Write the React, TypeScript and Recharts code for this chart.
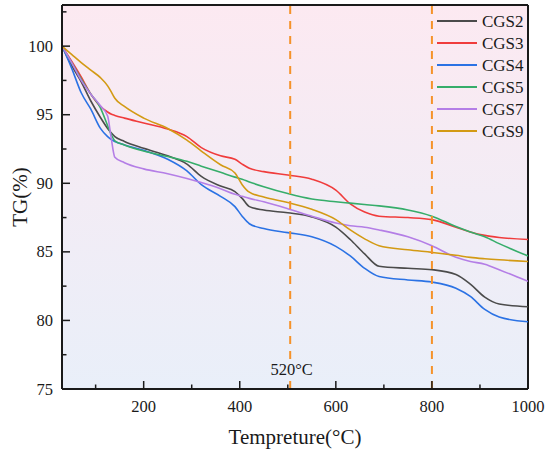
import React from 'react';
import { LineChart, Line, XAxis, YAxis, ReferenceLine, Legend, CartesianGrid, Label } from 'recharts';

const temps = [30, 50, 70, 90, 110, 125, 132, 140, 160, 200, 250, 290, 320, 360, 390, 405, 420, 450, 500, 550, 600, 630, 660, 690, 750, 800, 850, 880, 910, 940, 1000];

const cgs2 = [100, 98.6, 97.4, 96.0, 94.8, 94.0, 93.7, 93.4, 93.05, 92.55, 92.0, 91.4, 90.5, 89.8, 89.4, 88.9, 88.3, 88.05, 87.85, 87.55, 86.8, 85.9, 84.85, 83.95, 83.8, 83.7, 83.35, 82.65, 81.7, 81.2, 81.0];
const cgs3 = [100, 98.9, 97.75, 96.5, 95.6, 95.2, 95.05, 94.95, 94.75, 94.4, 93.95, 93.4, 92.6, 92.0, 91.75, 91.4, 91.1, 90.85, 90.6, 90.3, 89.5, 88.5, 87.9, 87.6, 87.5, 87.35, 86.8, 86.45, 86.2, 86.05, 85.9];
const cgs4 = [100, 98.4, 96.6, 95.4, 94.0, 93.4, 93.2, 93.05, 92.8, 92.4, 91.75, 90.9, 89.9, 89.05, 88.3, 87.6, 87.05, 86.7, 86.4, 86.1, 85.4, 84.7, 83.8, 83.2, 82.95, 82.8, 82.35, 81.75, 80.8, 80.25, 79.9];
const cgs5 = [100, 98.8, 97.6, 96.5, 95.5, 94.2, 93.6, 93.1, 92.8, 92.35, 91.95, 91.6, 91.25, 90.8, 90.45, 90.3, 90.1, 89.75, 89.25, 88.85, 88.65, 88.55, 88.45, 88.35, 88.05, 87.6, 86.85, 86.45, 86.1, 85.6, 84.7];
const cgs7 = [100, 98.8, 97.5, 96.5, 95.65, 94.9, 93.4, 91.9, 91.5, 91.05, 90.7, 90.35, 90.05, 89.6, 89.2, 89.05, 88.9, 88.65, 88.15, 87.6, 87.1, 86.9, 86.8, 86.6, 86.1, 85.45, 84.6, 84.3, 84.1, 83.7, 82.85];
const cgs9 = [100, 99.4, 98.8, 98.25, 97.7, 97.1, 96.7, 96.2, 95.6, 94.75, 94.0, 93.15, 92.35, 91.35, 90.75, 89.9, 89.35, 89.0, 88.6, 88.1, 87.35, 86.6, 85.95, 85.45, 85.15, 84.96, 84.75, 84.6, 84.5, 84.42, 84.3];

const xTicks = [100, 200, 300, 400, 500, 600, 700, 800, 900, 1000];
const yTicks = [75, 77.5, 80, 82.5, 85, 87.5, 90, 92.5, 95, 97.5, 100, 102.5];
const markers = [505, 800];
const markerLabel = '520°C';

const series = [
  { key: 'CGS2', color: '#4b4b4b', values: cgs2 },
  { key: 'CGS3', color: '#f03c3c', values: cgs3 },
  { key: 'CGS4', color: '#2b72e4', values: cgs4 },
  { key: 'CGS5', color: '#36ad6a', values: cgs5 },
  { key: 'CGS7', color: '#b47ee6', values: cgs7 },
  { key: 'CGS9', color: '#d39a14', values: cgs9 },
];

const data = temps.map((t, i) => {
  const row: Record<string, number> = { t };
  series.forEach((s) => {
    row[s.key] = s.values[i];
  });
  return row;
});

const FONT = '"Liberation Serif", "Times New Roman", serif';
const INK = '#1a1a1a';

const XTick = (props: any) => {
  const { x, y, payload } = props;
  const v = payload.value;
  const major = v % 200 === 0;
  return (
    <g>
      <line x1={x} x2={x} y1={y} y2={y - (major ? 8 : 4.5)} stroke={INK} strokeWidth={1.5} />
      {major && (
        <text x={x} y={y + 17} textAnchor="middle" dominantBaseline="central" fontFamily={FONT} fontSize={16.5} fill={INK}>
          {v}
        </text>
      )}
    </g>
  );
};

const YTick = (props: any) => {
  const { x, y, payload } = props;
  const v = payload.value;
  const major = v % 5 === 0;
  return (
    <g>
      <line x1={x} x2={x + (major ? 8 : 4.5)} y1={y} y2={y} stroke={INK} strokeWidth={1.5} />
      {major && (
        <text x={x - 9} y={y} textAnchor="end" dominantBaseline="central" fontFamily={FONT} fontSize={16.5} fill={INK}>
          {v}
        </text>
      )}
    </g>
  );
};

const renderLegend = () => (
  <svg width={110} height={140}>
    {series.map((s, i) => (
      <g key={s.key}>
        <line x1={0} x2={40} y1={10 + i * 22} y2={10 + i * 22} stroke={s.color} strokeWidth={1.8} />
        <text x={45} y={10 + i * 22} dominantBaseline="central" fontFamily={FONT} fontSize={17} fill={INK}>
          {s.key}
        </text>
      </g>
    ))}
  </svg>
);

export default function App() {
  return (
    <div style={{ position: 'fixed', left: 0, top: 0, width: 550, height: 454, background: '#fff' }}>
      <LineChart width={550} height={454} data={data} margin={{ top: 5, right: 22, bottom: 0, left: 0 }}>
        <defs>
          <linearGradient id="bgGrad" x1="0" y1="0" x2="0" y2="1">
            <stop offset="0%" stopColor="#fce9f1" />
            <stop offset="100%" stopColor="#e9eff9" />
          </linearGradient>
        </defs>
        <CartesianGrid horizontal={false} vertical={false} fill="url(#bgGrad)" fillOpacity={1} />
        <XAxis
          dataKey="t"
          type="number"
          domain={[30, 1000]}
          ticks={xTicks}
          interval={0}
          height={65}
          tickSize={0}
          tickMargin={0}
          tickLine={false}
          tick={<XTick />}
          axisLine={{ stroke: INK, strokeWidth: 2 }}
          allowDataOverflow
        >
          <Label
            content={(p: any) => {
              const vb = p.viewBox;
              return (
                <text x={vb.x + vb.width / 2} y={437} textAnchor="middle" dominantBaseline="central" fontFamily={FONT} fontSize={21} fill={INK}>
                  Tempreture(°C)
                </text>
              );
            }}
          />
        </XAxis>
        <YAxis
          type="number"
          domain={[75, 103]}
          ticks={yTicks}
          interval={0}
          width={62}
          tickSize={0}
          tickMargin={0}
          tickLine={false}
          tick={<YTick />}
          axisLine={{ stroke: INK, strokeWidth: 2 }}
          allowDataOverflow
        >
          <Label
            content={(p: any) => {
              const vb = p.viewBox;
              const cx = 20;
              const cy = vb.y + vb.height / 2;
              return (
                <text x={cx} y={cy} transform={`rotate(-90 ${cx} ${cy})`} textAnchor="middle" dominantBaseline="central" fontFamily={FONT} fontSize={21} fill={INK}>
                  TG(%)
                </text>
              );
            }}
          />
        </YAxis>
        <ReferenceLine y={103} stroke={INK} strokeWidth={2} />
        <ReferenceLine x={1000} stroke={INK} strokeWidth={2} />
        {series.map((s) => (
          <Line
            key={s.key}
            dataKey={s.key}
            type="monotone"
            stroke={s.color}
            strokeWidth={1.6}
            dot={false}
            activeDot={false}
            isAnimationActive={false}
          />
        ))}
        {markers.map((m, i) => (
          <ReferenceLine
            key={m}
            x={m}
            stroke="#f5922a"
            strokeWidth={2}
            strokeDasharray="8 7"
            label={
              i === 0
                ? (p: any) => {
                    const vb = p.viewBox;
                    return (
                      <text
                        x={vb.x + 1.5}
                        y={vb.y + vb.height - 20}
                        textAnchor="middle"
                        dominantBaseline="central"
                        fontFamily={FONT}
                        fontSize={16.5}
                        fill={INK}
                        stroke="#eaeff9"
                        strokeWidth={5}
                        paintOrder="stroke"
                      >
                        {markerLabel}
                      </text>
                    );
                  }
                : undefined
            }
          />
        ))}
        <Legend
          layout="vertical"
          align="center"
          verticalAlign="middle"
          content={renderLegend}
          wrapperStyle={{ left: 437, top: 10.7, width: 110, height: 140 }}
        />
      </LineChart>
    </div>
  );
}
